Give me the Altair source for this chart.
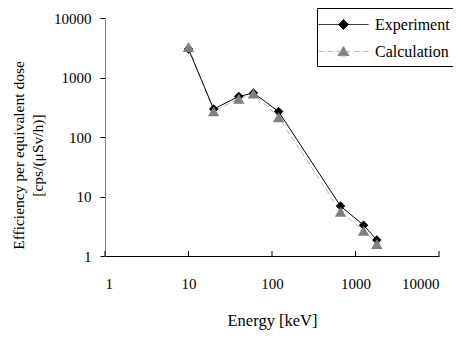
import altair as alt
import pandas as pd

energy = [10, 20, 40, 60, 120, 662, 1250, 1800]
experiment = [3000, 295, 480, 550, 267, 6.9, 3.3, 1.86]
calculation = [3250, 270, 440, 535, 215, 5.55, 2.66, 1.59]
series = ["Experiment", "Calculation"]
x_ticks = [1, 10, 100, 1000, 10000]
y_ticks = [1, 10, 100, 1000, 10000]

rows = []
for name, vals in zip(series, [experiment, calculation]):
    for e, v in zip(energy, vals):
        rows.append({"Energy": e, "Value": v, "Series": name})
df = pd.DataFrame(rows)
ticks_df = pd.DataFrame({"t": x_ticks})

FONT = "Liberation Serif"
W, H = 334, 238
LINE_COLORS = ["black", "#b3b3b3"]
MARK_COLORS = ["black", "#808080"]
DASHES = [[1, 0], [5, 4]]

xs = alt.Scale(type="log", domain=[1, 10000])
ys = alt.Scale(type="log", domain=[1, 10000])

x_enc = alt.X("Energy:Q", scale=xs, axis=alt.Axis(
    values=x_ticks, format="d", title="Energy [keV]", ticks=False,
    labelPadding=20, titlePadding=21, titleFontSize=16.5, domainColor="black", grid=False))
y_enc = alt.Y("Value:Q", scale=ys, axis=alt.Axis(
    values=y_ticks, format="d", title=["Efficiency per equivalent dose", "[cps/(μSv/h)]"],
    tickSize=5, tickColor="black", labelPadding=9, titlePadding=8, titleFontSize=15.5,
    titleLineHeight=19, titleY=137, domainColor="#808080", grid=False))

legend_paths = [
    "M-2.5,0H2.5M-0.5,0L0,-0.5L0.5,0L0,0.5Z",
    "M-2.5,0H2.5M-0.6,0.45L0,-0.55L0.6,0.45Z",
]

legend = alt.Legend(
    title=None, orient="none", legendX=212, legendY=-10,
    strokeColor="black", fillColor="white", padding=6,
    labelFont=FONT, labelFontSize=16, labelColor="black",
    symbolSize=400, symbolOffset=10, labelOffset=21, rowPadding=8,
    symbolOpacity=1, symbolStrokeWidth=1,
)


def sub(i):
    return alt.Chart(df).transform_filter(alt.datum.Series == series[i])


line_calc = sub(1).mark_line(strokeWidth=1, color=LINE_COLORS[1], strokeDash=DASHES[1]).encode(
    x=x_enc, y=y_enc, order=alt.Order("Energy:Q"))
line_exp = sub(0).mark_line(strokeWidth=1, color=LINE_COLORS[0]).encode(
    x=x_enc, y=y_enc, order=alt.Order("Energy:Q"))
pts_exp = sub(0).mark_point(filled=True, opacity=1, shape="diamond", size=90, color=MARK_COLORS[0]).encode(
    x=x_enc, y=y_enc)
pts_calc = sub(1).mark_point(filled=True, opacity=1, shape="triangle-up", size=130, color=MARK_COLORS[1]).encode(
    x=x_enc, y=y_enc)

legend_layer = alt.Chart(df).mark_point(filled=True, opacity=0).encode(
    x=x_enc, y=y_enc,
    fill=alt.Fill("Series:N", scale=alt.Scale(domain=series, range=MARK_COLORS), legend=legend),
    stroke=alt.Stroke("Series:N", scale=alt.Scale(domain=series, range=LINE_COLORS), legend=legend),
    strokeDash=alt.StrokeDash("Series:N", scale=alt.Scale(domain=series, range=DASHES), legend=legend),
    shape=alt.Shape("Series:N", scale=alt.Scale(domain=series, range=legend_paths), legend=legend),
)

xticks = alt.Chart(ticks_df).mark_rule(color="black", strokeWidth=1).encode(
    x=alt.X("t:Q", scale=xs), y=alt.value(H), y2=alt.value(H - 5))

chart = alt.layer(legend_layer, xticks, line_calc, line_exp, pts_exp, pts_calc).properties(
    width=W, height=H, background="white",
    autosize=alt.AutoSizeParams(type="none"),
    padding={"left": 97, "top": 10, "right": 14, "bottom": 74},
).configure_view(stroke=None).configure_axis(
    labelFont=FONT, labelFontSize=15, labelColor="black",
    titleFont=FONT, titleFontWeight="normal", titleColor="black",
)

chart.save("out.html", embed_options={"renderer": "svg", "actions": False})
